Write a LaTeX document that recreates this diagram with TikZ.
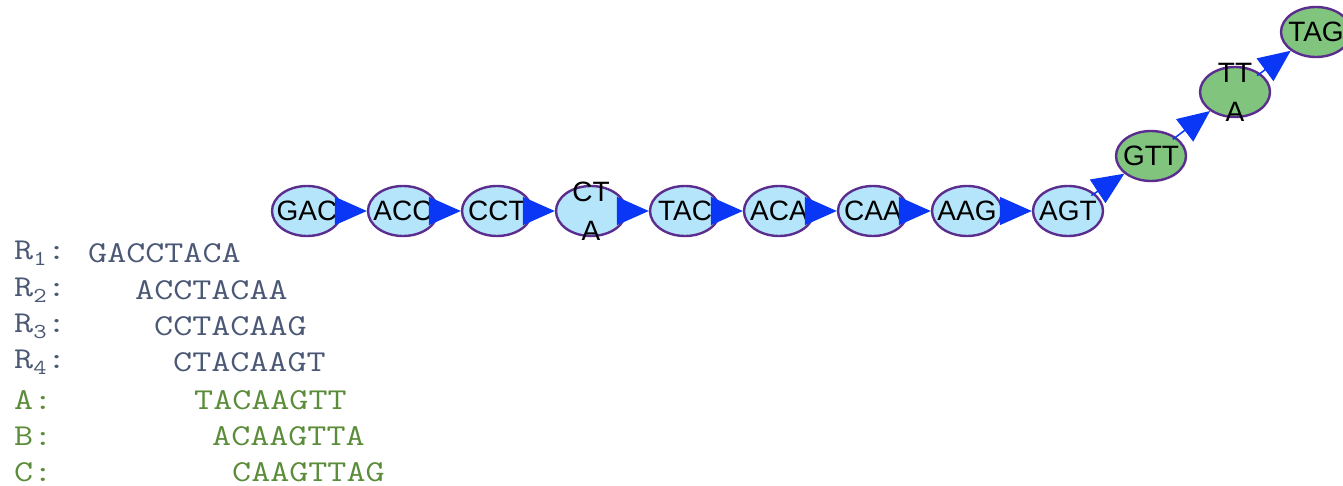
\documentclass[tikz,border=0pt]{standalone}
\usepackage{fontspec}
\setmainfont{Liberation Sans}
\usetikzlibrary{shapes.geometric,arrows.meta}
\definecolor{nodeblue}{HTML}{B5E5FB}
\definecolor{nodegreen}{HTML}{80C47E}
\definecolor{nodeborder}{HTML}{5B2D8E}
\definecolor{arrowblue}{HTML}{0A36F5}
\definecolor{readcol}{HTML}{4B5875}
\definecolor{newcol}{HTML}{5B8C3A}
\tikzset{
  kmer/.style={ellipse, draw=nodeborder, line width=2.4pt, minimum width=70pt, minimum height=50pt, inner sep=0pt,
    label={[font=\fontsize{28}{31}\selectfont, align=center, inner sep=0pt]center:#1}},
  kblue/.style={kmer={#1}, fill=nodeblue},
  kgreen/.style={kmer={#1}, fill=nodegreen},
  link/.style={draw=arrowblue, line width=1.5pt, -{Triangle[length=32pt,width=28pt]}, arrowblue, shorten <=-4pt},
  seq/.style={anchor=west, inner sep=0pt, font=\ttfamily\fontsize{37}{37}\selectfont},
  rd/.style={seq, text=readcol},
  nw/.style={seq, text=newcol}
}
\newcommand{\sq}[1]{\scalebox{1}[0.82]{#1}}
\begin{document}
\begin{tikzpicture}[x=1pt,y=-1pt]
\useasboundingbox (0,0) rectangle (1343,486);
\node[kblue={GAC}] (gac) at (307,211) {};
\node[kblue={ACC}] (acc) at (403,211) {};
\node[kblue={CCT}] (cct) at (497,211) {};
\node[kblue={CT\\[8pt]A}] (cta) at (591,211) {};
\node[kblue={TAC}] (tac) at (685,211) {};
\node[kblue={ACA}] (aca) at (779,211) {};
\node[kblue={CAA}] (caa) at (873,211) {};
\node[kblue={AAG}] (aag) at (967,211) {};
\node[kblue={AGT}] (agt) at (1068,211) {};
\node[kgreen={GTT}] (gtt) at (1151,156) {};
\node[kgreen={TT\\[8pt]A}] (tta) at (1235,92) {};
\node[kgreen={TAG}] (tag) at (1316,32) {};
\foreach \a/\b in {gac/acc,acc/cct,cct/cta,cta/tac,tac/aca,aca/caa,caa/aag,aag/agt,agt/gtt,gtt/tta,tta/tag}
  \draw[link] (\a) -- (\b);
\node[rd] (l1) at (14,253) {\sq{R\textsubscript{1}:}};
\node[rd] (l2) at (14,290) {\sq{R\textsubscript{2}:}};
\node[rd] (l3) at (14,326) {\sq{R\textsubscript{3}:}};
\node[rd] (l4) at (14,362) {\sq{R\textsubscript{4}:}};
\node[nw] (la) at (14,400) {\sq{A:}};
\node[nw] (lb) at (14,436) {\sq{B:}};
\node[nw] (lc) at (14,472) {\sq{C:}};
\node[rd] (s1) at (88,253) {\sq{GACCTACA}};
\node[rd] (s2) at (135,290) {\sq{ACCTACAA}};
\node[rd] (s3) at (154,326) {\sq{CCTACAAG}};
\node[rd] (s4) at (173,362) {\sq{CTACAAGT}};
\node[nw] (sa) at (194,400) {\sq{TACAAGTT}};
\node[nw] (sb) at (212,436) {\sq{ACAAGTTA}};
\node[nw] (sc) at (232,472) {\sq{CAAGTTAG}};
\end{tikzpicture}
\end{document}
